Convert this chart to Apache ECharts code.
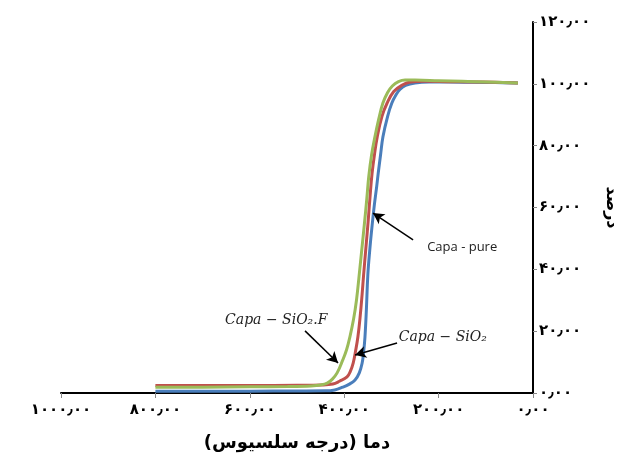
<!DOCTYPE html>
<html>
<head>
<meta charset="utf-8">
<script src="https://cdn.jsdelivr.net/npm/echarts@6/dist/echarts.min.js"></script>
<style>
  html, body { margin: 0; padding: 0; background: #ffffff; }
  #main { width: 621px; height: 459px; }
</style>
</head>
<body>
<div id="main"></div>
<script>
// دما (درجه سلسیوس) / درصد
var pureTemp = [800, 700, 600, 500, 440, 420, 403, 390, 377, 368, 362, 359, 356, 353, 350, 346, 341, 336, 331, 328, 323, 318, 308, 299, 290, 282, 270, 250, 220, 180, 130, 80, 32];
var pureVal  = [0.6, 0.6, 0.6, 0.65, 0.7, 1.0, 1.9, 2.8, 4.2, 6.5, 9.7, 13, 18.1, 27, 38, 46, 54, 61, 67, 71, 77, 82.8, 89.5, 93.8, 96.5, 98.2, 99.5, 100.3, 100.6, 100.6, 100.5, 100.4, 100.3];

var sio2Temp = [800, 700, 600, 500, 450, 424, 410, 394, 387, 381, 376, 371, 366, 362, 359, 354, 349, 345, 341, 336, 330, 320, 309, 295, 277, 260, 230, 180, 130, 80, 32];
var sio2Val  = [2.4, 2.4, 2.4, 2.5, 2.6, 2.9, 3.8, 5.2, 7, 9.7, 13.5, 18.1, 25, 32, 38, 47, 56, 64, 71, 77, 82.8, 89.5, 93.8, 97.5, 99.6, 100.6, 100.8, 100.7, 100.6, 100.5, 100.3];

var sio2fTemp = [800, 700, 600, 520, 470, 450, 436, 425, 415, 403, 395, 388, 380, 374, 369, 363, 357, 352, 348, 342, 335, 327, 318, 308, 298, 285, 271, 250, 200, 150, 100, 32];
var sio2fVal  = [1.9, 1.9, 2.0, 2.1, 2.3, 2.6, 3.2, 4.5, 6.5, 10.7, 14, 18.1, 24, 30, 37, 46, 55, 63, 70, 77, 82.8, 88.5, 93.8, 97.2, 99.3, 100.7, 101.2, 101.2, 101, 100.8, 100.6, 100.3];

var seriesNames = ["Capa - pure", "Capa − SiO₂", "Capa − SiO₂.F"];
var seriesColors = ["#4a7ebb", "#c0504d", "#9bbb59"];

// annotation arrows [tail, head] and label positions, in data units
var arrows = [
  [[254, 49.5], [339, 58.2]],
  [[288, 16.2], [377, 12.3]],
  [[483, 20.1], [413, 9.7]]
];
var labelPos = [[150, 47.2], [191, 18.1], [544, 23.6]];

function pair(t, v) {
  var out = [];
  for (var i = 0; i < t.length; i++) out.push([t[i], v[i]]);
  return out;
}

function faNum(v) {
  var s = v.toFixed(2).replace(".", "٫");
  var fa = "۰۱۲۳۴۵۶۷۸۹";
  return s.replace(/[0-9]/g, function(d) { return fa[+d]; });
}

var myChart = echarts.init(document.getElementById("main"));
var datas = [pair(pureTemp, pureVal), pair(sio2Temp, sio2Val), pair(sio2fTemp, sio2fVal)];

var series = [];
for (var i = 0; i < 3; i++) {
  series.push({
    name: seriesNames[i],
    type: "line",
    smooth: 0.4,
    showSymbol: false,
    lineStyle: { width: 3, color: seriesColors[i] },
    itemStyle: { color: seriesColors[i] },
    data: datas[i],
    markLine: {
      silent: true,
      symbol: ["none", "arrow"],
      symbolSize: [9, 11],
      lineStyle: { color: "#000", width: 1.5, type: "solid" },
      label: { show: false },
      data: [[{ coord: arrows[i][0] }, { coord: arrows[i][1] }]]
    }
  });
}

option = {
  backgroundColor: "#ffffff",
  animation: false,
  grid: { left: 61, right: 88, top: 22, bottom: 66, outerBoundsMode: "none" },
  xAxis: {
    type: "value",
    inverse: true,
    min: 0,
    max: 1000,
    interval: 200,
    name: "دما (درجه سلسیوس)",
    nameLocation: "middle",
    nameGap: 41,
    nameTextStyle: { fontFamily: "DejaVu Sans", fontWeight: "bold", fontSize: 18, color: "#000" },
    axisLine: { onZero: false, lineStyle: { color: "#000", width: 2 } },
    axisTick: { show: true, length: 5, lineStyle: { color: "#888" } },
    axisLabel: {
      margin: 10,
      fontFamily: "DejaVu Sans",
      fontWeight: "bold",
      fontSize: 15,
      color: "#000",
      formatter: function(v) { return faNum(v); }
    },
    splitLine: { show: false }
  },
  yAxis: {
    type: "value",
    position: "right",
    min: 0,
    max: 120,
    interval: 20,
    name: "درصد",
    nameLocation: "middle",
    nameGap: 70,
    nameRotate: -90,
    nameTextStyle: { fontFamily: "DejaVu Sans", fontWeight: "bold", fontSize: 16, color: "#000" },
    axisLine: { show: true, lineStyle: { color: "#000", width: 2 } },
    axisTick: { show: true, length: 4, lineStyle: { color: "#888" } },
    axisLabel: {
      margin: 6,
      fontFamily: "DejaVu Sans",
      fontWeight: "bold",
      fontSize: 15,
      color: "#000",
      formatter: function(v) { return faNum(v); }
    },
    splitLine: { show: false }
  },
  series: series
};
myChart.setOption(option);

// annotation texts placed from data coordinates
var texts = [];
var fonts = [
  "13px 'Open Sans', sans-serif",
  "italic 14px 'DejaVu Serif', serif",
  "italic 14px 'DejaVu Serif', serif"
];
for (var j = 0; j < 3; j++) {
  var p = myChart.convertToPixel({ gridIndex: 0 }, labelPos[j]);
  texts.push({
    type: "text",
    x: p[0],
    y: p[1],
    style: {
      text: seriesNames[j],
      font: fonts[j],
      fill: "#222",
      align: "center",
      verticalAlign: "middle"
    }
  });
}
myChart.setOption({ graphic: texts });
</script>
</body>
</html>
